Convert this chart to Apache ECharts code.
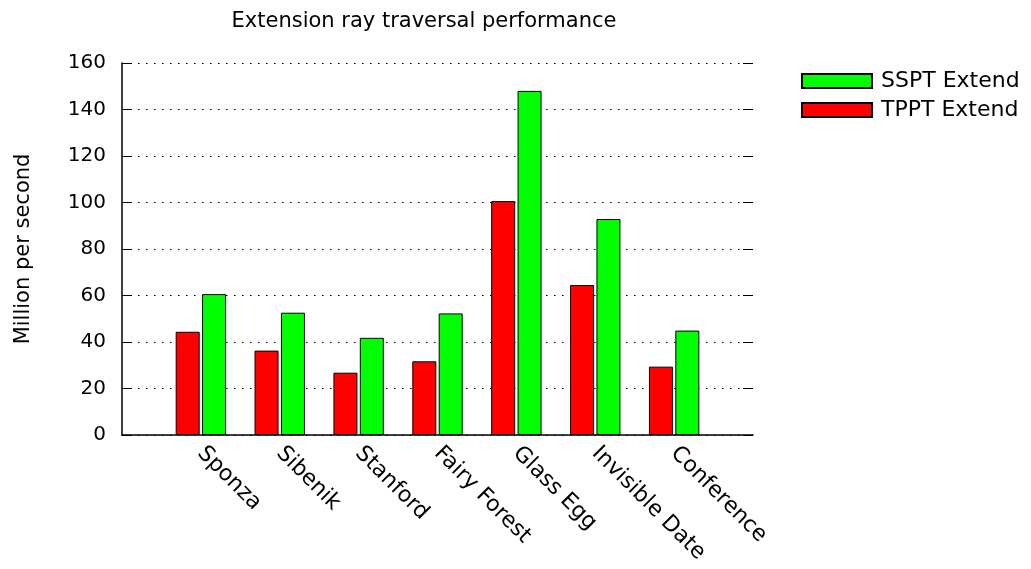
<!DOCTYPE html>
<html>
<head>
<meta charset="utf-8">
<script src="https://cdn.jsdelivr.net/npm/echarts@6/dist/echarts.min.js"></script>
<style>
  html, body { margin: 0; padding: 0; background: #fff; }
  #chart { width: 1031px; height: 569px; }
</style>
</head>
<body>
<div id="chart"></div>
<script>
// empty slots at both ends, like the gnuplot x range -1..7
const scenes = ['', 'Sponza', 'Sibenik', 'Stanford', 'Fairy Forest', 'Glass Egg', 'Invisible Date', 'Conference', '']
const tpptExtend = [null, 44.4, 36.3, 26.8, 31.7, 100.6, 64.5, 29.4, null]
const ssptExtend = [null, 60.6, 52.6, 41.8, 52.3, 148.0, 92.9, 44.9, null]
const yTicks = { min: 0, max: 160, interval: 20 }

const font = 'DejaVu Sans'
const chart = echarts.init(document.getElementById('chart'))

const option = {
  backgroundColor: '#fff',
  animation: false,
  title: {
    text: 'Extension ray traversal performance',
    left: 419,
    top: 6,
    textAlign: 'center',
    textStyle: { fontFamily: font, fontSize: 21, fontWeight: 'normal', color: '#000' },
  },
  legend: {
    orient: 'vertical',
    left: 796,
    top: 65,
    icon: 'rect',
    itemWidth: 70,
    itemHeight: 14,
    itemGap: 7,
    textStyle: { fontFamily: font, fontSize: 22, color: '#000', padding: [0, 0, 0, 4] },
    data: ['SSPT Extend', 'TPPT Extend'],
  },
  grid: { left: 122, right: 278, top: 63, bottom: 134 },
  xAxis: {
    type: 'category',
    data: scenes,
    boundaryGap: false,
    axisLine: { lineStyle: { color: '#000', width: 1.5 } },
    axisTick: { show: false },
    axisLabel: {
      rotate: -45,
      interval: 0,
      margin: 15,
      fontFamily: font,
      fontSize: 22,
      color: '#000',
    },
  },
  yAxis: [
    {
      type: 'value',
      min: yTicks.min,
      max: yTicks.max,
      interval: yTicks.interval,
      name: 'Million per second',
      nameLocation: 'middle',
      nameGap: 88,
      nameTextStyle: { fontFamily: font, fontSize: 21, color: '#000' },
      axisLine: { show: true, lineStyle: { color: '#000', width: 1.5 } },
      axisTick: { show: true, inside: true, length: 10, lineStyle: { color: '#000' } },
      axisLabel: { fontFamily: font, fontSize: 20, color: '#000', margin: 16 },
      splitLine: { show: true, lineStyle: { color: '#000', width: 1, type: [1.5, 6.5] } },
    },
    {
      // mirrored ticks on the right side
      type: 'value',
      position: 'right',
      min: yTicks.min,
      max: yTicks.max,
      interval: yTicks.interval,
      axisLine: { show: false },
      axisTick: { show: true, inside: true, length: 10, lineStyle: { color: '#000' } },
      axisLabel: { show: false },
      splitLine: { show: false },
    },
  ],
  series: [
    {
      name: 'TPPT Extend',
      type: 'bar',
      data: tpptExtend,
      barWidth: 24,
      barGap: '10%',
      itemStyle: { color: '#ff0000', borderColor: '#000', borderWidth: 1 },
    },
    {
      name: 'SSPT Extend',
      type: 'bar',
      data: ssptExtend,
      barWidth: 24,
      barGap: '10%',
      itemStyle: { color: '#00ff00', borderColor: '#000', borderWidth: 1 },
    },
  ],
}

chart.setOption(option)
</script>
</body>
</html>
